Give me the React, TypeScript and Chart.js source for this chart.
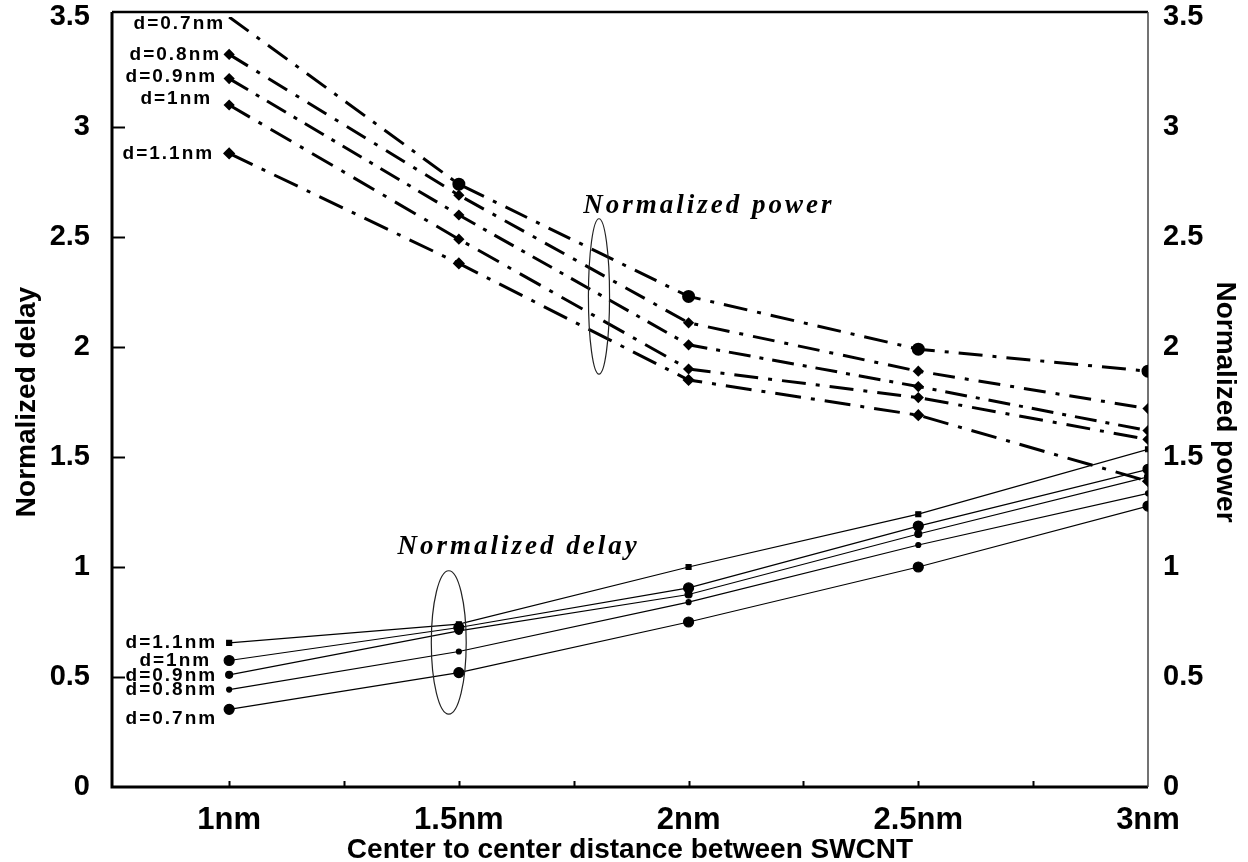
import React, { useEffect, useRef } from 'react';
import { Chart, registerables } from 'chart.js';

Chart.register(...registerables);

// ---------- data ----------
const distances = [1, 1.5, 2, 2.5, 3];
const xTickValues = [1, 1.5, 2, 2.5, 3];
const xMinorTickValues = [1, 1.25, 1.5, 1.75, 2, 2.25, 2.5, 2.75];
const yTickValues = [0, 0.5, 1, 1.5, 2, 2.5, 3, 3.5];
const diameterLabels = ['d=0.7nm', 'd=0.8nm', 'd=0.9nm', 'd=1nm', 'd=1.1nm'];

// Normalized delay (solid lines, left axis)
const delay07 = [0.353, 0.52, 0.75, 1.0, 1.277];
const delay08 = [0.443, 0.616, 0.84, 1.1, 1.335];
const delay09 = [0.51, 0.71, 0.875, 1.15, 1.41];
const delay10 = [0.575, 0.725, 0.905, 1.186, 1.444];
const delay11 = [0.655, 0.74, 1.0, 1.24, 1.535];

// Normalized power (dash-dot lines, right axis)
const power07 = [3.5, 2.74, 2.23, 1.99, 1.89];
const power08 = [3.33, 2.69, 2.11, 1.89, 1.72];
const power09 = [3.22, 2.6, 2.01, 1.82, 1.62];
const power10 = [3.1, 2.49, 1.9, 1.77, 1.58];
const power11 = [2.88, 2.38, 1.85, 1.69, 1.39];

// label anchors (data units on the y axis)
const powerLabelY = [3.47, 3.33, 3.23, 3.13, 2.88];
const delayLabelY = [0.312, 0.44, 0.507, 0.575, 0.655];

// ---------- styling ----------
const SANS = "'Liberation Sans', Arial, sans-serif";
const NARROW = "'Liberation Sans Narrow', 'Arial Narrow', 'Liberation Sans', Arial, sans-serif";
const SERIF = "'Liberation Serif', 'Times New Roman', serif";

const delaySeries = [delay07, delay08, delay09, delay10, delay11];
const powerSeries = [power07, power08, power09, power10, power11];
const delayPointStyle = ['circle', 'circle', 'circle', 'circle', 'rect'];
const delayPointRadius = [5, 2.5, 3.5, 5, 3.5];
const powerPointStyle = ['circle', 'rectRot', 'rectRot', 'rectRot', 'rectRot'];
const powerPointRadius = [5, 3.5, 3.5, 3.5, 4];
const powerDash = [
  [24, 10, 4, 10],
  [22, 10, 4, 10],
  [22, 9, 4, 9],
  [24, 10, 4, 10],
  [26, 10, 4, 10],
];
const delayLabelRightOffset = [12, 12, 12, 18, 12];
const powerLabelRightOffset = [4, 8, 12, 17, 15];

const toPts = (vals: number[]) => distances.map((d, i) => ({ x: d, y: vals[i] }));

const decorPlugin = {
  id: 'decor',
  beforeDatasetsDraw(chart: any) {
    const { ctx, chartArea: a, scales } = chart;
    const xs = scales.x;
    const ys = scales.y;
    ctx.save();
    // frame
    ctx.strokeStyle = '#000';
    ctx.lineWidth = 3;
    ctx.beginPath();
    ctx.moveTo(a.left, a.top - 5);
    ctx.lineTo(a.left, a.bottom);
    ctx.lineTo(a.right, a.bottom);
    ctx.stroke();
    ctx.lineWidth = 2.5;
    ctx.beginPath();
    ctx.moveTo(a.left, a.top - 5);
    ctx.lineTo(a.right, a.top - 5);
    ctx.stroke();
    ctx.strokeStyle = '#444';
    ctx.lineWidth = 1.5;
    ctx.beginPath();
    ctx.moveTo(a.right, a.top - 5);
    ctx.lineTo(a.right, a.bottom);
    ctx.stroke();
    // inward ticks on the left axis
    ctx.strokeStyle = '#000';
    ctx.lineWidth = 2;
    yTickValues.forEach((v) => {
      if (v <= 0 || v >= 3.5) return;
      const py = Math.round(ys.getPixelForValue(v)) + 0.5;
      ctx.beginPath();
      ctx.moveTo(a.left, py);
      ctx.lineTo(a.left + 13, py);
      ctx.stroke();
    });
    // inward ticks on the bottom axis
    xMinorTickValues.forEach((v) => {
      const px = Math.round(xs.getPixelForValue(v)) + 0.5;
      ctx.beginPath();
      ctx.moveTo(px, a.bottom);
      ctx.lineTo(px, a.bottom - 6);
      ctx.stroke();
    });
    ctx.restore();
  },
  afterDatasetsDraw(chart: any) {
    const { ctx, scales } = chart;
    const xs = scales.x;
    const ys = scales.y;
    ctx.save();
    ctx.fillStyle = '#000';
    ctx.font = `bold 19px ${SANS}`;
    (ctx as any).letterSpacing = '2px';
    ctx.textAlign = 'right';
    ctx.textBaseline = 'middle';
    const x1 = xs.getPixelForValue(distances[0]);
    diameterLabels.forEach((t, i) => {
      ctx.fillText(t, x1 - powerLabelRightOffset[i], ys.getPixelForValue(powerLabelY[i]));
      ctx.fillText(t, x1 - delayLabelRightOffset[i], ys.getPixelForValue(delayLabelY[i]));
    });
    // annotations
    (ctx as any).letterSpacing = '3px';
    ctx.font = `italic bold 27px ${SERIF}`;
    ctx.textAlign = 'center';
    ctx.fillText('Normalized power', xs.getPixelForValue(2.044), ys.getPixelForValue(2.64));
    ctx.fillText('Normalized delay', xs.getPixelForValue(1.63), ys.getPixelForValue(1.091));
    ctx.strokeStyle = '#222';
    ctx.lineWidth = 1.2;
    const ellipse = (cx: number, cy: number, rx: number, ry: number) => {
      const px = xs.getPixelForValue(cx);
      const py = ys.getPixelForValue(cy);
      const prx = Math.abs(xs.getPixelForValue(cx + rx) - px);
      const pry = Math.abs(ys.getPixelForValue(cy + ry) - py);
      ctx.beginPath();
      ctx.ellipse(px, py, prx, pry, 0, 0, Math.PI * 2);
      ctx.stroke();
    };
    ellipse(1.805, 2.23, 0.023, 0.353);
    ellipse(1.478, 0.657, 0.038, 0.326);
    ctx.restore();
  },
};

export default function App() {
  const ref = useRef<HTMLCanvasElement>(null);
  useEffect(() => {
    document.body.style.margin = '0';
    const datasets: any[] = [];
    delaySeries.forEach((vals, i) => {
      datasets.push({
        label: `Delay ${diameterLabels[i]}`,
        data: toPts(vals),
        yAxisID: 'y',
        borderColor: '#000',
        backgroundColor: '#000',
        borderWidth: 1.2,
        pointStyle: delayPointStyle[i],
        pointRadius: delayPointRadius[i],
        pointBackgroundColor: '#000',
        pointBorderColor: '#000',
        tension: 0,
      });
    });
    powerSeries.forEach((vals, i) => {
      datasets.push({
        label: `Power ${diameterLabels[i]}`,
        data: toPts(vals),
        yAxisID: 'y2',
        borderColor: '#000',
        backgroundColor: '#000',
        borderWidth: 3,
        borderDash: powerDash[i],
        pointStyle: powerPointStyle[i],
        pointRadius: distances.map((d, j) => (j === 0 && i === 0 ? 0 : powerPointRadius[i])),
        pointBackgroundColor: '#000',
        pointBorderColor: '#000',
        tension: 0,
      });
    });
    const fixV = (w: number) => (s: any) => {
      s.width = w;
      s.paddingTop = 0;
      s.paddingBottom = 0;
    };
    const chart = new Chart(ref.current as HTMLCanvasElement, {
      type: 'line',
      data: { datasets },
      plugins: [decorPlugin],
      options: {
        animation: false,
        responsive: false,
        devicePixelRatio: 1,
        layout: { padding: { top: 17, left: 0, right: 0, bottom: 0 } },
        plugins: { legend: { display: false }, tooltip: { enabled: false } },
        scales: {
          x: {
            type: 'linear',
            min: 0.745,
            max: 3,
            grid: { display: false, drawTicks: false },
            border: { display: false },
            afterBuildTicks: (s: any) => {
              s.ticks = xTickValues.map((v) => ({ value: v }));
            },
            afterFit: (s: any) => {
              s.height = 75;
              s.paddingLeft = 0;
              s.paddingRight = 0;
            },
            ticks: {
              color: '#000',
              padding: 15,
              maxRotation: 0,
              font: { family: SANS, size: 31, weight: 'bold' },
              callback: (v: any) => `${v}nm`,
            },
            title: {
              display: true,
              text: 'Center to center distance between SWCNT',
              color: '#000',
              font: { family: SANS, size: 28, weight: 'bold', lineHeight: 1 },
              padding: { top: 0, bottom: -2 },
            },
          },
          y: {
            type: 'linear',
            position: 'left',
            min: 0,
            max: 3.5,
            grid: { display: false, drawTicks: false },
            border: { display: false },
            afterBuildTicks: (s: any) => {
              s.ticks = yTickValues.map((v) => ({ value: v }));
            },
            afterFit: fixV(112),
            ticks: {
              color: '#000',
              padding: 22,
              font: { family: SANS, size: 29, weight: 'bold' },
              callback: (v: any) => `${v}`,
            },
            title: {
              display: true,
              text: 'Normalized delay',
              color: '#000',
              font: { family: NARROW, size: 28, weight: 'bold', lineHeight: 1.2 },
              padding: { top: 10, bottom: 0 },
            },
          },
          y2: {
            type: 'linear',
            position: 'right',
            min: 0,
            max: 3.5,
            grid: { display: false, drawTicks: false },
            border: { display: false },
            afterBuildTicks: (s: any) => {
              s.ticks = yTickValues.map((v) => ({ value: v }));
            },
            afterFit: fixV(100),
            ticks: {
              color: '#000',
              padding: 15,
              font: { family: SANS, size: 29, weight: 'bold' },
              callback: (v: any) => `${v}`,
            },
            title: {
              display: true,
              text: 'Normalized power',
              color: '#000',
              font: { family: NARROW, size: 28, weight: 'bold', lineHeight: 1.2 },
              padding: { top: 6, bottom: 0 },
            },
          },
        },
      } as any,
    });
    return () => chart.destroy();
  }, []);
  return (
    <div style={{ position: 'absolute', left: 0, top: 0, width: 1248, height: 862, background: '#fff' }}>
      <canvas ref={ref} width={1248} height={862} style={{ display: 'block', width: 1248, height: 862 }} />
    </div>
  );
}
